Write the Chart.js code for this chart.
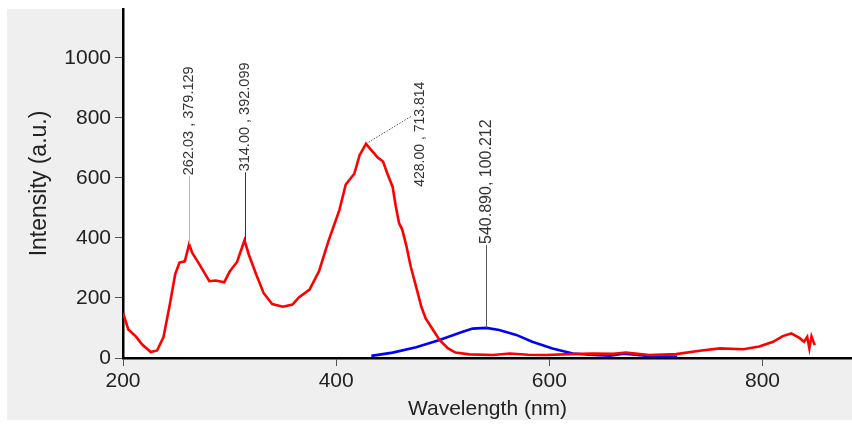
<!DOCTYPE html>
<html><head><meta charset="utf-8">
<script src="https://cdn.jsdelivr.net/npm/chart.js@4.4.0/dist/chart.umd.min.js"></script>
<style>html,body{margin:0;padding:0;background:#fff;overflow:hidden}#wrap{width:852px;height:426px}</style>
</head><body><div id="wrap"><canvas id="c" width="852" height="426"></canvas></div>
<script>
// ---- data ----
const redX = [200,205,212,218,226,232,238,244,249,253,258,262.03,265,271,281,287,295,300,307,314,318,325,332,340,350,359,365,375,384,393,403,409,417,422,428,433,439,444,448,453,456,459,462,466,470,475,480,484,489,497,505,512,525,547,563,580,597,620,641,660,672,694,719,741,760,782,797,810,819,827,835,839,842,844,846,849];
const redY = [150,95,72,45,20,25,70,180,280,318,322,379.129,350,316,256,258,252,288,320,392.099,345,278,216,180,171,178,202,228,290,392,493,578,614,676,713.814,693,668,655,615,570,505,450,428,372,304,238,170,132,104,60,32,18,12,10,15,11,10,13,15,14,18,10,13,24,32,29,38,54,73,82,66,54,70,32,72,43];
const blueX = [433,453,475,497,516,528,540.89,553,569,584,603,622,641,657,670,690,720];
const blueY = [7,18,36,60,84,98,100.212,93,77,54,32,15,10,8,14,8,4];
const xTicks = [200,400,600,800];
const yTicks = [0,200,400,600,800,1000];
const peakX = [262.03,314.00,428.00,540.890];
const peakY = [379.129,392.099,713.814,100.212];
const peakLabels = ['262.03 , 379.129','314.00 , 392.099','428.00 , 713.814','540.890, 100.212'];

// ---- styles ----
const FONT = "'Liberation Sans', Arial, sans-serif";
const annStyle = [
  {kind:'v', gap:68, line:'#b5b5b5', size:14.5},
  {kind:'v', gap:68, line:'#333333', size:14.5},
  {kind:'d', lx:46, ly:-28, tx:54, ty:43, line:'#555555', size:14},
  {kind:'v', gap:83, line:'#555555', size:16}
];

const bgPlugin = {
  id:'bg',
  beforeDraw(chart){
    const ctx = chart.ctx, a = chart.chartArea;
    ctx.save();
    ctx.fillStyle = '#ffffff'; ctx.fillRect(0,0,chart.width,chart.height);
    ctx.fillStyle = '#efefef'; ctx.fillRect(7,9,chart.width-7,411);
    ctx.fillStyle = '#ffffff'; ctx.fillRect(a.left,a.top,a.right-a.left,a.bottom-a.top);
    ctx.restore();
  }
};
const annPlugin = {
  id:'ann',
  afterDatasetsDraw(chart){
    const ctx = chart.ctx, xs = chart.scales.x, ys = chart.scales.y;
    ctx.save();
    peakX.forEach((v,i)=>{
      const st = annStyle[i];
      const px = xs.getPixelForValue(v), py = ys.getPixelForValue(peakY[i]);
      ctx.strokeStyle = st.line; ctx.lineWidth = 1;
      let tx, ty;
      ctx.beginPath();
      if (st.kind === 'v') {
        ctx.setLineDash([]);
        ctx.moveTo(Math.round(px)+0.5, py); ctx.lineTo(Math.round(px)+0.5, py - st.gap);
        tx = px; ty = py - st.gap - 1;
      } else {
        ctx.setLineDash([1.5,1.5]);
        ctx.moveTo(px, py); ctx.lineTo(px + st.lx, py + st.ly);
        tx = px + st.tx; ty = py + st.ty;
      }
      ctx.stroke();
      ctx.setLineDash([]);
      ctx.translate(tx, ty); ctx.rotate(-Math.PI/2);
      ctx.fillStyle = '#333'; ctx.font = st.size + 'px ' + FONT;
      ctx.textAlign = 'left'; ctx.textBaseline = 'middle';
      ctx.fillText(peakLabels[i], 0, 0);
      ctx.setTransform(1,0,0,1,0,0);
    });
    ctx.restore();
  }
};

const toPts = (xs, ys) => xs.map((x,i)=>({x:x, y:ys[i]}));
const tickFont = {family:FONT, size:21};
const plain = v => String(v);

new Chart(document.getElementById('c'), {
  type:'scatter',
  data:{datasets:[
    {label:'red', data:toPts(redX,redY), showLine:true, borderColor:'#ff0000', borderWidth:2.6, pointRadius:0, order:1},
    {label:'blue', data:toPts(blueX,blueY), showLine:true, borderColor:'#0000ff', borderWidth:2.6, pointRadius:0, order:2}
  ]},
  options:{
    responsive:false, animation:false, devicePixelRatio:1,
    layout:{padding:{top:9,left:0,right:0,bottom:0}},
    plugins:{legend:{display:false}, tooltip:{enabled:false}},
    scales:{
      x:{type:'linear', position:'bottom', min:200, max:884,
        afterBuildTicks:s=>{s.ticks = xTicks.map(v=>({value:v}));},
        afterFit:s=>{s.height = 68; s.paddingLeft = 0; s.paddingRight = 0;},
        grid:{drawOnChartArea:false, drawTicks:true, tickLength:8, tickColor:'#555', tickWidth:1},
        border:{display:true, color:'#000', width:2.5},
        ticks:{color:'#222', font:tickFont, padding:3, maxRotation:0, autoSkip:false, callback:plain},
        title:{display:true, text:'Wavelength (nm)', color:'#222', font:tickFont, padding:{top:0,bottom:4}}
      },
      y:{type:'linear', position:'left', min:0, max:1163,
        afterBuildTicks:s=>{s.ticks = yTicks.map(v=>({value:v}));},
        afterFit:s=>{s.width = 123; s.paddingTop = 0; s.paddingBottom = 0;},
        grid:{drawOnChartArea:false, drawTicks:true, tickLength:8, tickColor:'#555', tickWidth:1},
        border:{display:true, color:'#000', width:2.5},
        ticks:{color:'#222', font:tickFont, padding:4, autoSkip:false, callback:plain},
        title:{display:true, text:'Intensity (a.u.)', color:'#222', font:{family:FONT, size:23}, padding:{top:26,bottom:0}}
      }
    }
  },
  plugins:[bgPlugin, annPlugin]
});
</script></body></html>
